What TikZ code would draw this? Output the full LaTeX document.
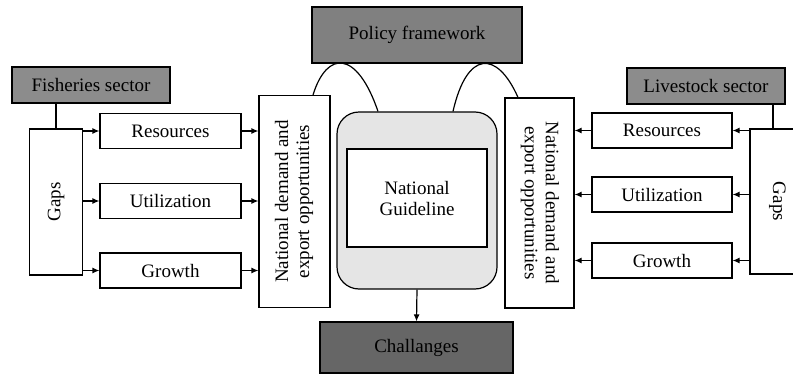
\documentclass[tikz,border=0pt]{standalone}
\usepackage{fontspec}
\setmainfont{Liberation Serif}
\usetikzlibrary{arrows.meta,positioning}

\begin{document}
\begin{tikzpicture}[
  x=1pt,y=-1pt,
  every node/.style={font=\fontsize{19}{21}\selectfont},
  box/.style={draw,line width=1.2pt,fill=white,inner sep=0pt,align=center},
  sectorbox/.style={box,fill=black!45,minimum width=158pt,minimum height=36pt},
  itembox/.style={box,minimum width=141pt,minimum height=35pt},
  gapbox/.style={box,minimum width=53pt,minimum height=146pt},
  demandbox/.style={box,minimum width=71pt,minimum height=212pt},
  arr/.style={-{Latex[length=7pt,width=6pt]},line width=1.2pt},
  link/.style={line width=1.2pt}
]
\useasboundingbox (0,0) rectangle (793,375);

% top and bottom
\node[box,fill=black!50,minimum width=210pt,minimum height=56pt] (policy) at (417,35) {Policy framework};
\node[box,fill=black!60,minimum width=193pt,minimum height=51pt] (chall) at (416.5,347.5) {Challanges};

% centre
\node[box,fill=black!10,rounded corners=22pt,minimum width=160pt,minimum height=177pt] (guide) at (417,200.5) {};
\node[box,minimum width=140pt,minimum height=98pt] (natgl) at (417,198) {National\\Guideline};

% fisheries side
\node[sectorbox] (fish) at (91,85) {Fisheries sector};
\node[gapbox] (gapsL) at (56,202) {\rotatebox{90}{Gaps}};
\node[itembox] (resL) at (170.5,131) {Resources};
\node[itembox] (utilL) at (170.5,201) {Utilization};
\node[itembox] (growL) at (170.5,270.5) {Growth};
\node[demandbox] (demL) at (294.5,201.5) {\rotatebox{90}{\begin{tabular}{@{}c@{}}National demand and\\export opportunities\end{tabular}}};

% livestock side
\node[sectorbox] (live) at (706,86) {Livestock sector};
\node[gapbox,minimum width=55pt,minimum height=145pt] (gapsR) at (777.5,201.5) {\rotatebox{-90}{Gaps}};
\node[itembox,minimum width=140pt] (resR) at (662,130.5) {Resources};
\node[itembox,minimum width=140pt] (utilR) at (662,194.5) {Utilization};
\node[itembox,minimum width=140pt] (growR) at (662,260.5) {Growth};
\node[demandbox,minimum width=69pt,minimum height=210pt] (demR) at (539.5,203) {\rotatebox{-90}{\begin{tabular}{@{}c@{}}National demand and\\export opportunities\end{tabular}}};

% connectors
\draw[link] (fish.south -| gapsL.north) -- (gapsL.north);
\draw[link] (live.south -| 773,0) -- (gapsR.north -| 773,0);
\foreach \n in {resL,utilL,growL}{
  \draw[arr] (gapsL.east |- \n.west) -- (\n.west);
  \draw[arr] (\n.east) -- (demL.west |- \n.east);
}
\foreach \n in {resR,utilR,growR}{
  \draw[arr] (gapsR.west |- \n.east) -- (\n.east);
  \draw[arr] (\n.west) -- (demR.east |- \n.west);
}
\draw[arr] (guide.south) -- (chall.north);

% humps under the policy box
\draw[link] ([xshift=18.5pt]demL.north) .. controls (327,50) and (357,50) .. ([xshift=-39pt]guide.north);
\draw[link] ([xshift=36pt]guide.north) .. controls (467,50) and (497,50) .. ([xshift=-21.5pt]demR.north);
\end{tikzpicture}
\end{document}
